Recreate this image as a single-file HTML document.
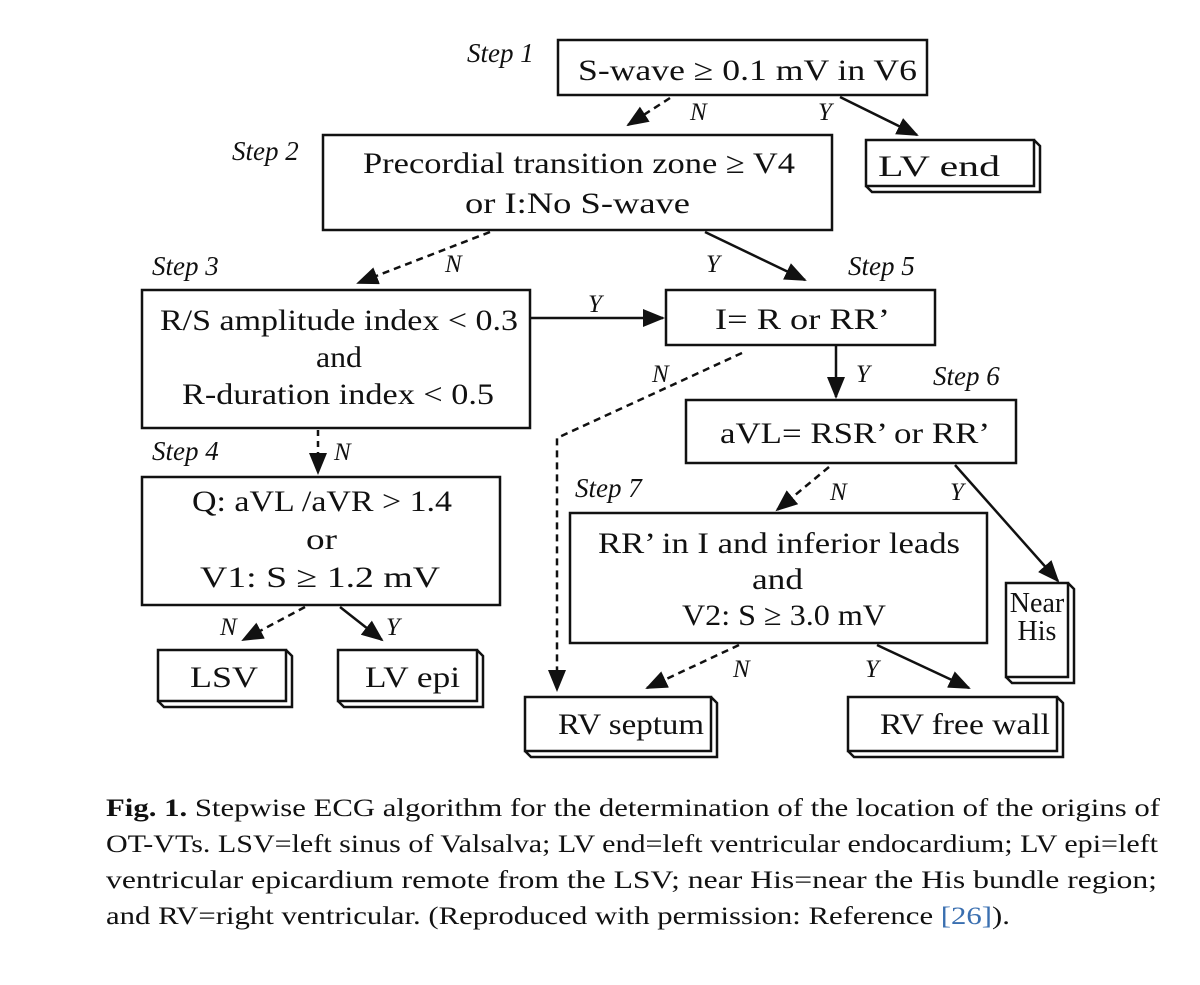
<!DOCTYPE html>
<html><head><meta charset="utf-8"><style>
body{margin:0;background:#fff}
svg text{font-family:"Liberation Serif",serif;fill:#111}
.b{font-size:30px}
.s{font-size:27px;font-style:italic}
.l{font-size:25px;font-style:italic}
.c{font-size:25px}
</style></head><body>
<svg width="1200" height="980" viewBox="0 0 1200 980" xmlns="http://www.w3.org/2000/svg">
<defs>
<marker id="A" markerWidth="22" markerHeight="18" refX="20" refY="9" orient="auto" markerUnits="userSpaceOnUse"><path d="M0,0 L22,9 L0,18 z" fill="#111"/></marker>
</defs>
<g fill="none" stroke="#111" stroke-width="2.5">
<rect x="558" y="40" width="369" height="55"/>
<rect x="323" y="135" width="509" height="95"/>
<rect x="142" y="290" width="388" height="138"/>
<rect x="666" y="290" width="269" height="55"/>
<rect x="686" y="400" width="330" height="63"/>
<rect x="142" y="477" width="358" height="128"/>
<rect x="570" y="513" width="417" height="130"/>
</g>
<g fill="none" stroke="#111" stroke-width="2.5">
<path d="M866,140 h168 v46 h-168 z M1034,140 l6,6 v46 h-168 l-6,-6"/>
<path d="M1006,583 h62 v94 h-62 z M1068,583 l6,6 v94 h-62 l-6,-6"/>
<path d="M158,650 h128 v51 h-128 z M286,650 l6,6 v51 h-128 l-6,-6"/>
<path d="M338,650 h139 v51 h-139 z M477,650 l6,6 v51 h-139 l-6,-6"/>
<path d="M525,697 h186 v54 h-186 z M711,697 l6,6 v54 h-186 l-6,-6"/>
<path d="M848,697 h209 v54 h-209 z M1057,697 l6,6 v54 h-209 l-6,-6"/>
</g>
<g fill="none" stroke="#111" stroke-width="2.5">
<path d="M670,98 L628,125" stroke-dasharray="7,5" marker-end="url(#A)"/>
<path d="M840,97 L917,135" marker-end="url(#A)"/>
<path d="M490,232 L358,283" stroke-dasharray="7,5" marker-end="url(#A)"/>
<path d="M705,232 L805,280" marker-end="url(#A)"/>
<path d="M530,318 L663,318" marker-end="url(#A)"/>
<path d="M742,353 L557,438 L557,690" stroke-dasharray="7,5" marker-end="url(#A)"/>
<path d="M836,345 L836,397" marker-end="url(#A)"/>
<path d="M318,430 L318,473" stroke-dasharray="6,5" marker-end="url(#A)"/>
<path d="M829,467 L777,510" stroke-dasharray="7,5" marker-end="url(#A)"/>
<path d="M955,465 L1058,581" marker-end="url(#A)"/>
<path d="M305,607 L243,640" stroke-dasharray="7,5" marker-end="url(#A)"/>
<path d="M340,607 L382,640" marker-end="url(#A)"/>
<path d="M739,645 L647,688" stroke-dasharray="7,5" marker-end="url(#A)"/>
<path d="M877,645 L969,688" marker-end="url(#A)"/>
</g>
<g class="b">
<text x="578" y="80" textLength="339" lengthAdjust="spacingAndGlyphs">S-wave ≥ 0.1 mV in V6</text>
<text x="878" y="176" textLength="122" lengthAdjust="spacingAndGlyphs">LV end</text>
<text x="363" y="173" textLength="432" lengthAdjust="spacingAndGlyphs">Precordial transition zone ≥ V4</text>
<text x="465" y="213" textLength="225" lengthAdjust="spacingAndGlyphs">or  I:No S-wave</text>
<text x="160" y="330" textLength="358" lengthAdjust="spacingAndGlyphs">R/S amplitude index &lt; 0.3</text>
<text x="316" y="367" textLength="46" lengthAdjust="spacingAndGlyphs">and</text>
<text x="182" y="404" textLength="312" lengthAdjust="spacingAndGlyphs">R-duration index &lt; 0.5</text>
<text x="715" y="329" textLength="175" lengthAdjust="spacingAndGlyphs">I= R or RR’</text>
<text x="720" y="443" textLength="270" lengthAdjust="spacingAndGlyphs">aVL= RSR’ or RR’</text>
<text x="192" y="511" textLength="260" lengthAdjust="spacingAndGlyphs">Q: aVL /aVR &gt; 1.4</text>
<text x="306" y="549" textLength="31" lengthAdjust="spacingAndGlyphs">or</text>
<text x="200" y="587" textLength="240" lengthAdjust="spacingAndGlyphs">V1: S ≥ 1.2 mV</text>
<text x="598" y="553" textLength="362" lengthAdjust="spacingAndGlyphs">RR’ in I and inferior leads</text>
<text x="752" y="589" textLength="51" lengthAdjust="spacingAndGlyphs">and</text>
<text x="682" y="625" textLength="204" lengthAdjust="spacingAndGlyphs">V2: S ≥ 3.0 mV</text>
<text x="1037" y="612" font-size="28" text-anchor="middle">Near</text>
<text x="1037" y="640" font-size="28" text-anchor="middle">His</text>
<text x="190" y="687" textLength="68" lengthAdjust="spacingAndGlyphs">LSV</text>
<text x="365" y="687" textLength="95" lengthAdjust="spacingAndGlyphs">LV epi</text>
<text x="558" y="734" textLength="146" lengthAdjust="spacingAndGlyphs">RV septum</text>
<text x="880" y="734" textLength="170" lengthAdjust="spacingAndGlyphs">RV free wall</text>
</g>
<g class="s">
<text x="467" y="62">Step 1</text>
<text x="232" y="160">Step 2</text>
<text x="152" y="275">Step 3</text>
<text x="152" y="460">Step 4</text>
<text x="848" y="275">Step 5</text>
<text x="933" y="385">Step 6</text>
<text x="575" y="497">Step 7</text>
</g>
<g class="l">
<text x="690" y="120">N</text>
<text x="818" y="120">Y</text>
<text x="445" y="272">N</text>
<text x="706" y="272">Y</text>
<text x="588" y="312">Y</text>
<text x="652" y="382">N</text>
<text x="856" y="382">Y</text>
<text x="334" y="460">N</text>
<text x="830" y="500">N</text>
<text x="950" y="500">Y</text>
<text x="220" y="635">N</text>
<text x="386" y="635">Y</text>
<text x="733" y="677">N</text>
<text x="865" y="677">Y</text>
</g>
<g class="c">
<text x="106" y="816" textLength="1054" lengthAdjust="spacingAndGlyphs"><tspan font-weight="bold">Fig. 1.</tspan>  Stepwise ECG algorithm for the determination of the location of the origins of</text>
<text x="106" y="852" textLength="1052" lengthAdjust="spacingAndGlyphs">OT-VTs. LSV=left sinus of Valsalva; LV end=left ventricular endocardium; LV epi=left</text>
<text x="106" y="888" textLength="1051" lengthAdjust="spacingAndGlyphs">ventricular epicardium remote from the LSV; near His=near the His bundle region;</text>
<text x="106" y="924" textLength="904" lengthAdjust="spacingAndGlyphs">and RV=right ventricular. (Reproduced with permission: Reference <tspan fill="#3a6fb0">[26]</tspan>).</text>
</g>
</svg>
</body></html>
